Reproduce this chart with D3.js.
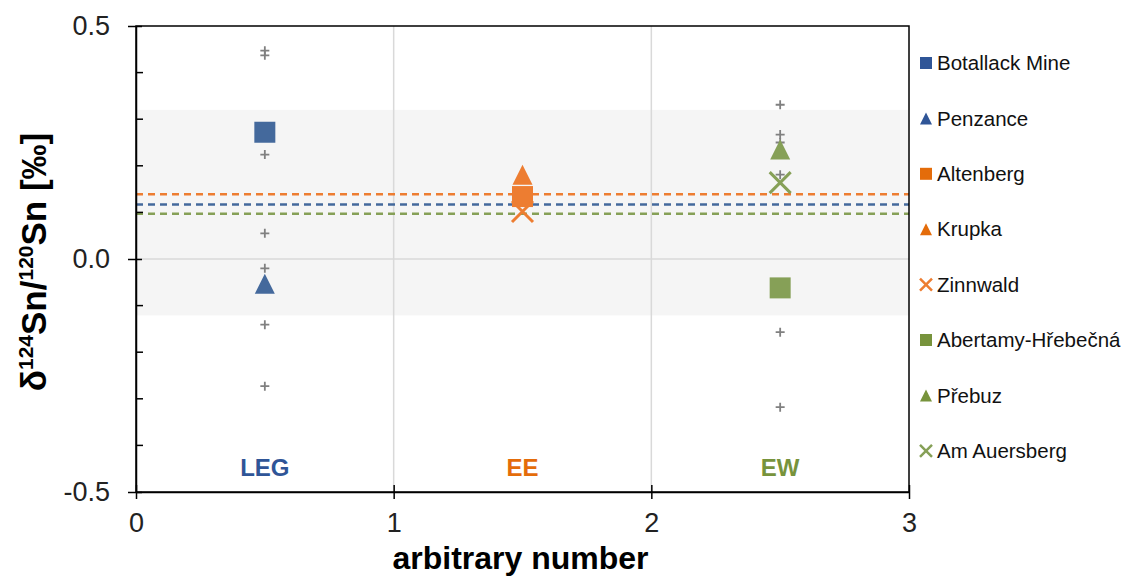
<!DOCTYPE html>
<html>
<head>
<meta charset="utf-8">
<script src="https://cdn.jsdelivr.net/npm/d3@7"></script>
<style>
  body { margin: 0; background: #fff; }
  text { font-family: "Liberation Sans", Arial, sans-serif; }
</style>
</head>
<body>
<svg id="chart" width="1130" height="577"></svg>
<script>
// groups (districts) and their colours
var groupNames = ["LEG", "EE", "EW"];
var groupX = [0.5, 1.5, 2.5];
var groupColor = ["#2f5597", "#e46c0a", "#77933c"];
var markColor = ["#44699c", "#ed7d31", "#86a057"];
var groupMean = [0.117, 0.139, 0.097];

// localities
var seriesNames = ["Botallack Mine", "Penzance", "Altenberg", "Krupka", "Zinnwald",
                   "Abertamy-Hřebečná", "Přebuz", "Am Auersberg"];
var seriesGroup = [0, 0, 1, 1, 1, 2, 2, 2];
var seriesShape = ["square", "triangle", "square", "triangle", "cross", "square", "triangle", "cross"];
var seriesY = [0.272, -0.053, 0.134, 0.181, 0.102, -0.062, 0.235, 0.164];

// single measurements (grey plus signs)
var plusX = [0.5, 0.5, 0.5, 0.5, 0.5, 0.5, 0.5, 2.5, 2.5, 2.5, 2.5, 2.5, 2.5];
var plusY = [0.447, 0.437, 0.224, 0.055, -0.02, -0.141, -0.273,
             0.331, 0.267, 0.25, 0.181, -0.157, -0.318];

// grey band
var bandY = [-0.121, 0.320];

var xTicks = [0, 1, 2, 3];
var yTicks = [-0.5, 0, 0.5];
var yMinor = [-0.4, -0.3, -0.2, -0.1, 0.1, 0.2, 0.3, 0.4];

var M = { top: 26, right: 221, bottom: 85, left: 136 };
var W = 1130, H = 577;

var svg = d3.select("#chart");
var width = W - M.left - M.right;
var height = H - M.top - M.bottom;

var x = d3.scaleLinear().domain([0, 3]).range([0, width]);
var y = d3.scaleLinear().domain([-0.5, 0.5]).range([height, 0]);

var g = svg.append("g").attr("transform", "translate(" + M.left + "," + M.top + ")");

// band
g.append("rect")
    .attr("x", 0).attr("width", width)
    .attr("y", y(bandY[1])).attr("height", y(bandY[0]) - y(bandY[1]))
    .attr("fill", "#f5f5f5");

// grid lines
g.selectAll(".vgrid").data([1, 2]).enter().append("line")
    .attr("x1", function(d) { return x(d); }).attr("x2", function(d) { return x(d); })
    .attr("y1", 0).attr("y2", height)
    .attr("stroke", "#d9d9d9").attr("stroke-width", 1.5);
g.append("line")
    .attr("x1", 0).attr("x2", width).attr("y1", y(0)).attr("y2", y(0))
    .attr("stroke", "#d9d9d9").attr("stroke-width", 1.5);

// mean lines
g.selectAll(".mean").data(groupMean).enter().append("line")
    .attr("x1", 0).attr("x2", width)
    .attr("y1", function(d) { return y(d); }).attr("y2", function(d) { return y(d); })
    .attr("stroke", function(d, i) { return markColor[i]; })
    .attr("stroke-width", 2.5)
    .attr("stroke-dasharray", "7,5");

// frame
g.append("rect").attr("x", 0).attr("y", 0).attr("width", width).attr("height", height)
    .attr("fill", "none").attr("stroke", "#000").attr("stroke-width", 1.5);

// y axis: major ticks cross, minor ticks inside
var fmt = function(d) { return d3.format(".1f")(d).replace("−", "-"); };
var yAxis = g.append("g")
    .call(d3.axisLeft(y).tickValues(yTicks).tickFormat(fmt).tickSizeInner(8).tickSizeOuter(0).tickPadding(18));
yAxis.select(".domain").attr("stroke-width", 1.5);
yAxis.selectAll(".tick line").attr("x2", 6).attr("x1", -8).attr("stroke-width", 1.5);
yAxis.selectAll("text").attr("font-size", 27).attr("fill", "#222")
    .attr("font-family", "Liberation Sans, Arial, sans-serif");
g.selectAll(".yminor").data(yMinor).enter().append("line")
    .attr("x1", 0).attr("x2", 7)
    .attr("y1", function(d) { return y(d); }).attr("y2", function(d) { return y(d); })
    .attr("stroke", "#000").attr("stroke-width", 1.5);

// x axis
var xAxis = g.append("g").attr("transform", "translate(0," + height + ")")
    .call(d3.axisBottom(x).tickValues(xTicks).tickFormat(d3.format("d")).tickSizeInner(7).tickSizeOuter(0).tickPadding(14));
xAxis.select(".domain").attr("stroke-width", 1.5);
xAxis.selectAll(".tick line").attr("y1", -7).attr("y2", 7).attr("stroke-width", 1.5);
xAxis.selectAll("text").attr("font-size", 27).attr("fill", "#222")
    .attr("font-family", "Liberation Sans, Arial, sans-serif");

// grey plus markers
g.selectAll(".plus").data(plusY).enter().append("path")
    .attr("transform", function(d, i) { return "translate(" + x(plusX[i]) + "," + y(d) + ")"; })
    .attr("d", "M-4.5,0H4.5M0,-4.5V4.5")
    .attr("stroke", "#808080").attr("stroke-width", 1.8).attr("fill", "none");

function shapePath(shape, s) {
    var h = s / 2;
    if (shape === "square") return "M" + (-h) + "," + (-h) + "H" + h + "V" + h + "H" + (-h) + "Z";
    if (shape === "triangle") return "M0," + (-h) + "L" + h + "," + h + "L" + (-h) + "," + h + "Z";
    return "M" + (-h) + "," + (-h) + "L" + h + "," + h + "M" + h + "," + (-h) + "L" + (-h) + "," + h;
}

// locality markers
g.selectAll(".mark").data(seriesY).enter().append("path")
    .attr("transform", function(d, i) { return "translate(" + x(groupX[seriesGroup[i]]) + "," + y(d) + ")"; })
    .attr("d", function(d, i) {
        var s = seriesShape[i] === "triangle" ? 20 : 21;
        return shapePath(seriesShape[i], s);
    })
    .attr("fill", function(d, i) { return seriesShape[i] === "cross" ? "none" : markColor[seriesGroup[i]]; })
    .attr("stroke", function(d, i) { return seriesShape[i] === "cross" ? markColor[seriesGroup[i]] : "none"; })
    .attr("stroke-width", 3);

// group labels
g.selectAll(".glabel").data(groupNames).enter().append("text")
    .attr("x", function(d, i) { return x(groupX[i]); })
    .attr("y", y(-0.5) - 16)
    .attr("text-anchor", "middle")
    .attr("font-size", 24).attr("font-weight", "bold")
    .attr("fill", function(d, i) { return groupColor[i]; })
    .text(function(d) { return d; });

// axis titles
svg.append("text")
    .attr("x", M.left + width / 2 - 2).attr("y", 569)
    .attr("text-anchor", "middle").attr("font-size", 32).attr("font-weight", "bold")
    .text("arbitrary number");

var yt = svg.append("text")
    .attr("transform", "translate(46,262) rotate(-90)")
    .attr("text-anchor", "middle").attr("font-size", 35).attr("font-weight", "bold");
yt.append("tspan").text("δ");
yt.append("tspan").attr("font-size", 21).attr("dy", -13).text("124");
yt.append("tspan").attr("dy", 13).text("Sn/");
yt.append("tspan").attr("font-size", 21).attr("dy", -13).text("120");
yt.append("tspan").attr("dy", 13).text("Sn  [‰]");

// legend
var legend = svg.selectAll(".legend").data(seriesNames).enter().append("g")
    .attr("class", "legend")
    .attr("transform", function(d, i) { return "translate(926," + (63 + i * 55.4) + ")"; });
legend.append("path")
    .attr("d", function(d, i) { return shapePath(seriesShape[i], 12); })
    .attr("fill", function(d, i) { return seriesShape[i] === "cross" ? "none" : groupColor[seriesGroup[i]]; })
    .attr("stroke", function(d, i) { return seriesShape[i] === "cross" ? markColor[seriesGroup[i]] : "none"; })
    .attr("stroke-width", 2.5);
legend.append("text")
    .attr("x", 11).attr("dy", "0.35em")
    .attr("font-size", 20.5).attr("fill", "#111")
    .text(function(d) { return d; });
</script>
</body>
</html>
